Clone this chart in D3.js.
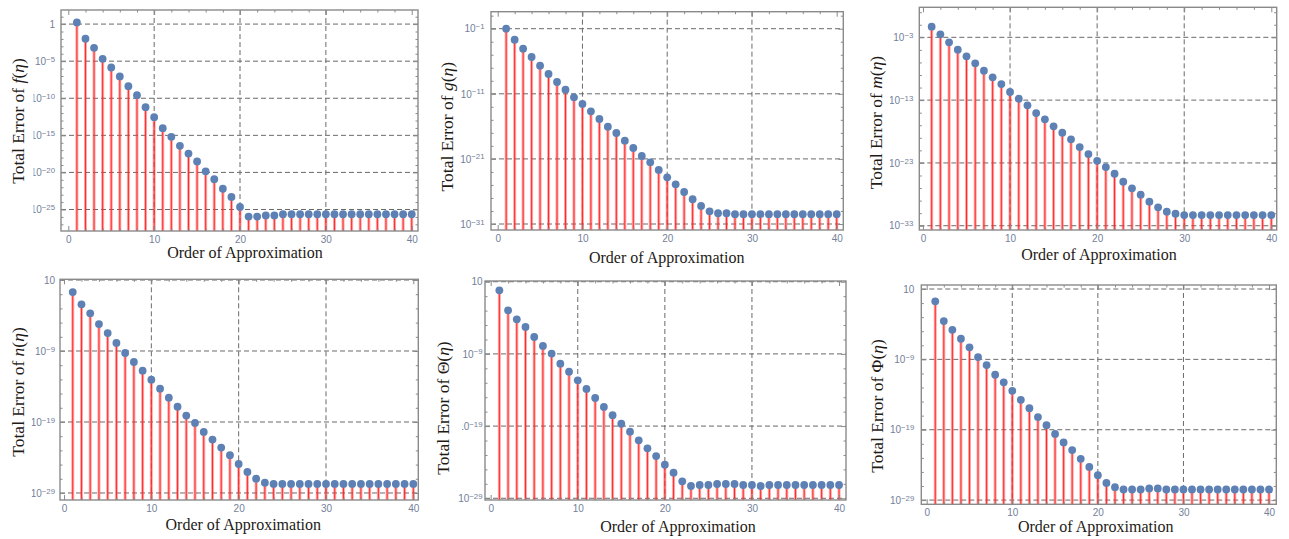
<!DOCTYPE html>
<html>
<head>
<meta charset="utf-8">
<title>Total Error vs Order of Approximation</title>
<script src="https://cdn.jsdelivr.net/npm/d3@7/dist/d3.min.js"></script>
<style>
  body { margin: 0; background: #fff; }
  svg { display: block; }
</style>
</head>
<body>
<script>
// order of approximation (x categories)
var orders = d3.range(1, 41);

// total error of each function
var errF = [1.7e0, 1.05e-2, 6.3e-4, 2.1e-5, 1.4e-6, 8.7e-8, 4.3e-9, 2.6e-10, 6.3e-12, 2.8e-13,
            9.3e-15, 6.3e-16, 3.8e-17, 3.5e-18, 3.0e-19, 1.4e-20, 1.2e-21, 6.3e-23, 5.0e-24, 2.2e-25,
            1.1e-26, 1.1e-26, 1.6e-26, 1.6e-26, 2.3e-26, 2.3e-26, 2.3e-26, 2.3e-26, 2.3e-26, 2.3e-26,
            2.3e-26, 2.3e-26, 2.3e-26, 2.3e-26, 2.3e-26, 2.3e-26, 2.3e-26, 2.3e-26, 2.3e-26, 2.3e-26];
var errG = [1.0e-1, 2.0e-3, 8.5e-5, 4.5e-6, 2.1e-7, 1.1e-8, 6.5e-10, 4.3e-11, 2.9e-12, 2.7e-13,
            2.0e-14, 1.35e-15, 8.9e-17, 9.5e-18, 6.3e-19, 4.7e-20, 2.8e-21, 3.0e-22, 2.0e-23, 1.5e-24,
            1.26e-25, 8.3e-27, 6.3e-28, 5.9e-29, 8.9e-30, 4.5e-30, 4.5e-30, 3.2e-30, 3.2e-30, 3.2e-30,
            3.2e-30, 3.2e-30, 3.2e-30, 3.2e-30, 3.2e-30, 3.2e-30, 3.2e-30, 3.2e-30, 3.2e-30, 3.2e-30];
var errM = [4.9e-2, 3.0e-3, 1.6e-4, 1.07e-5, 9.3e-7, 7.2e-8, 4.8e-9, 4.3e-10, 3.6e-11, 1.95e-12,
            1.66e-13, 1.5e-14, 8.7e-16, 8.7e-17, 6.8e-18, 6.5e-19, 5.8e-20, 3.4e-21, 2.6e-22, 2.2e-23,
            2.2e-24, 1.9e-25, 1.0e-26, 9.1e-28, 8.7e-29, 6.8e-30, 8.5e-31, 1.7e-31, 8.1e-32, 5.0e-32,
            5.0e-32, 5.0e-32, 5.0e-32, 5.0e-32, 5.0e-32, 5.0e-32, 5.0e-32, 5.0e-32, 5.0e-32, 5.0e-32];
var errN = [2.0e-1, 3.7e-3, 2.0e-4, 6.3e-6, 3.4e-7, 1.35e-8, 5.2e-10, 2.8e-11, 1.7e-12, 9.1e-14,
            5.0e-15, 2.7e-16, 1.45e-17, 7.9e-19, 7.4e-20, 4.0e-21, 3.3e-22, 2.5e-23, 2.1e-24, 1.2e-25,
            9.1e-27, 1.02e-27, 2.8e-28, 1.9e-28, 1.9e-28, 1.9e-28, 1.9e-28, 1.9e-28, 1.9e-28, 1.9e-28,
            1.9e-28, 1.9e-28, 1.9e-28, 1.9e-28, 1.9e-28, 1.9e-28, 1.9e-28, 1.9e-28, 1.9e-28, 1.9e-28];
var errTheta = [6.5e-1, 1.1e-3, 6.2e-5, 5.4e-6, 2.2e-7, 1.26e-8, 1.1e-9, 4.5e-11, 3.5e-12, 2.2e-13,
                1.4e-14, 7.8e-16, 4.5e-17, 3.2e-18, 2.1e-19, 1.7e-20, 1.07e-21, 8.3e-23, 7.1e-24, 4.5e-25,
                3.5e-26, 2.2e-27, 5.0e-28, 6.9e-28, 6.9e-28, 9.5e-28, 9.5e-28, 9.5e-28, 6.9e-28, 6.9e-28,
                5.0e-28, 6.9e-28, 6.9e-28, 6.9e-28, 6.9e-28, 6.9e-28, 6.9e-28, 6.9e-28, 6.9e-28, 6.9e-28];
var errPhi = [1.8e-1, 2.8e-4, 1.6e-5, 8.5e-7, 5.1e-8, 2.1e-9, 1.55e-10, 6.5e-12, 5.4e-13, 3.4e-14,
              1.8e-15, 1.17e-16, 6.2e-18, 4.5e-19, 2.5e-20, 1.55e-21, 1.26e-22, 7.2e-24, 5.2e-25, 3.5e-26,
              2.75e-27, 6.8e-28, 3.2e-28, 3.2e-28, 3.2e-28, 4.4e-28, 4.4e-28, 3.2e-28, 3.2e-28, 3.2e-28,
              3.2e-28, 3.2e-28, 3.2e-28, 3.2e-28, 3.2e-28, 3.2e-28, 3.2e-28, 3.2e-28, 3.2e-28, 3.2e-28];

// x tick labels
var xTicks = [0, 10, 20, 30, 40];

// y tick powers of ten for each panel
var yTicksF = [0, -5, -10, -15, -20, -25];
var yTicksG = [-1, -11, -21, -31];
var yTicksM = [-3, -13, -23, -33];
var yTicksLower = [1, -9, -19, -29];

// y axis titles: function symbol, italic or not
var names = [
  {sym: "f", italic: true},
  {sym: "g", italic: true},
  {sym: "m", italic: true},
  {sym: "n", italic: true},
  {sym: "\u0398", italic: false},
  {sym: "\u03A6", italic: false}
];

// panel layout: frame box in pixels, axis ranges (log10 for y), label spots,
// clip box for the y tick labels (cut at the edge of each original image)
var panels = [
  {data: errF, ticks: yTicksF, name: names[0], box: [61, 418, 10, 231], xd: [-0.85, 40.73], yd: [-27.9, 1.9],
   gap: 6, clip: [33.5, 0, 270], xt: [245, 258], yt: [18, 121]},
  {data: errG, ticks: yTicksG, name: names[1], box: [491, 843.3, 11.7, 230], xd: [-0.79, 40.78], yd: [-31.92, 1.61],
   gap: 6.5, clip: [430, 0, 270], xt: [666.7, 263], yt: [446.7, 126.7]},
  {data: errM, ticks: yTicksM, name: names[2], box: [919.3, 1276.7, 7.3, 230], xd: [-0.42, 40.62], yd: [-33.68, 1.78],
   gap: 6, clip: [890, 0, 270], xt: [1099, 259.5], yt: [875.7, 122.5]},
  {data: errN, ticks: yTicksLower, name: names[3], box: [60, 418.3, 279.3, 500], xd: [-0.46, 40.57], yd: [-29.99, 1.1],
   gap: 5, clip: [31.7, 270, 539], xt: [243.3, 530], yt: [18.3, 392]},
  {data: errTheta, ticks: yTicksLower, name: names[4], box: [485, 846, 281, 500], xd: [-0.65, 40.8], yd: [-29.24, 1.1],
   gap: 2.5, clip: [462, 270, 480], xt: [678, 531.5], yt: [443.3, 408]},
  {data: errPhi, ticks: yTicksLower, name: names[5], box: [921.3, 1276.3, 285, 504.3], xd: [-0.63, 40.85], yd: [-29.6, 1.57],
   gap: 7, clip: [859, 270, 539], xt: [1095.7, 531.5], yt: [877.3, 406]}
];

var frameColor = "#8a8a8a";
var gridColor = "#6a6a6a";
var tickTextColor = "#74809a";
var dotColor = "#5e81b5";

var svg = d3.select("body")
            .append("svg")
            .attr("width", 1289)
            .attr("height", 539);

var defs = svg.append("defs");

panels.forEach(function(p, k) {
  var left = p.box[0], right = p.box[1], top = p.box[2], bottom = p.box[3];

  var x = d3.scaleLinear().domain(p.xd).range([left, right]);
  var y = d3.scaleLog().domain([Math.pow(10, p.yd[0]), Math.pow(10, p.yd[1])]).range([bottom, top]);

  var majors = p.ticks.map(function(e) { return Math.pow(10, e); });
  var step = p.ticks[0] - p.ticks[1];
  var minors = [];
  for (var e = p.ticks[0] + step; e >= p.yd[0]; e -= step / 5) {
    if (e <= p.yd[1] && p.ticks.indexOf(Math.round(e)) < 0) minors.push(Math.pow(10, Math.round(e)));
  }
  var xMinors = d3.range(0, 41, 2).filter(function(d) { return d % 10 != 0; });

  var g = svg.append("g");

  // dashed grid
  g.selectAll(".gx").data([10, 20, 30]).enter().append("line")
    .attr("x1", function(d) { return x(d); }).attr("x2", function(d) { return x(d); })
    .attr("y1", top).attr("y2", bottom)
    .attr("stroke", gridColor).attr("stroke-width", 1).attr("stroke-dasharray", "5,3");
  g.selectAll(".gy").data(majors).enter().append("line")
    .attr("x1", left).attr("x2", right)
    .attr("y1", function(d) { return y(d); }).attr("y2", function(d) { return y(d); })
    .attr("stroke", gridColor).attr("stroke-width", 1).attr("stroke-dasharray", "5,3");

  // stems
  g.selectAll(".stemWide").data(p.data).enter().append("line")
    .attr("x1", function(d, i) { return x(orders[i]); }).attr("x2", function(d, i) { return x(orders[i]); })
    .attr("y1", bottom).attr("y2", function(d) { return y(d); })
    .attr("stroke", "rgba(255,60,60,0.45)").attr("stroke-width", 3);
  g.selectAll(".stem").data(p.data).enter().append("line")
    .attr("x1", function(d, i) { return x(orders[i]); }).attr("x2", function(d, i) { return x(orders[i]); })
    .attr("y1", bottom).attr("y2", function(d) { return y(d); })
    .attr("stroke", "#ff2a2a").attr("stroke-width", 1);

  // points
  g.selectAll(".dot").data(p.data).enter().append("circle")
    .attr("cx", function(d, i) { return x(orders[i]); })
    .attr("cy", function(d) { return y(d); })
    .attr("r", 3.9)
    .attr("fill", dotColor);

  // frame ticks, pointing inward on all four sides
  function frameAxis(axis, transform, vals, size) {
    var a = g.append("g").attr("transform", transform)
      .call(axis.tickValues(vals).tickSize(size).tickFormat(""));
    a.select(".domain").remove();
    a.selectAll("line").attr("stroke", frameColor);
  }
  frameAxis(d3.axisBottom(x), "translate(0," + bottom + ")", xTicks, -5);
  frameAxis(d3.axisBottom(x), "translate(0," + bottom + ")", xMinors, -2.5);
  frameAxis(d3.axisTop(x), "translate(0," + top + ")", xTicks, -5);
  frameAxis(d3.axisTop(x), "translate(0," + top + ")", xMinors, -2.5);
  frameAxis(d3.axisLeft(y), "translate(" + left + ",0)", majors, -5);
  frameAxis(d3.axisLeft(y), "translate(" + left + ",0)", minors, -2.5);
  frameAxis(d3.axisRight(y), "translate(" + right + ",0)", majors, -5);
  frameAxis(d3.axisRight(y), "translate(" + right + ",0)", minors, -2.5);

  g.append("rect")
    .attr("x", left).attr("y", top)
    .attr("width", right - left).attr("height", bottom - top)
    .attr("fill", "none").attr("stroke", frameColor).attr("stroke-width", 1.4);

  // x tick labels
  var xa = g.append("g").attr("transform", "translate(0," + bottom + ")")
    .call(d3.axisBottom(x).tickValues(xTicks).tickSize(0).tickPadding(5));
  xa.select(".domain").remove();
  xa.selectAll("text")
    .style("font-family", "'Liberation Sans', Arial, sans-serif")
    .style("font-size", "10px")
    .attr("fill", tickTextColor);

  // y tick labels with superscripts, cut off at the image edge
  var cl = defs.append("clipPath").attr("id", "clip" + k);
  cl.append("rect")
    .attr("x", p.clip[0]).attr("y", p.clip[1])
    .attr("width", right - p.clip[0] + 20).attr("height", p.clip[2] - p.clip[1]);
  if (p.clip[2] < bottom + 20) {
    // bottom label sits outside the cut
    cl.append("rect")
      .attr("x", left - 60).attr("y", p.clip[2])
      .attr("width", 80).attr("height", 40);
  }

  var ya = g.append("g")
    .attr("clip-path", "url(#clip" + k + ")")
    .append("g")
    .attr("transform", "translate(" + (left - p.gap + 5) + ",0)")
    .call(d3.axisLeft(y).tickValues(majors).tickSize(0).tickPadding(5));
  ya.select(".domain").remove();
  ya.selectAll("text")
    .style("font-family", "'Liberation Sans', Arial, sans-serif")
    .style("font-size", "10px")
    .attr("fill", tickTextColor)
    .text(null)
    .each(function(d, i) {
      var t = d3.select(this);
      var ex = p.ticks[i];
      if (ex == 0) { t.append("tspan").text("1"); return; }
      t.append("tspan").text("10");
      if (ex == 1) return;
      t.append("tspan").attr("dy", "-0.4em").style("font-size", "7.8px").text("\u2212" + (-ex));
    });

  // axis titles
  svg.append("text")
    .attr("x", p.xt[0]).attr("y", p.xt[1])
    .attr("text-anchor", "middle")
    .style("font-family", "'Liberation Serif', 'Times New Roman', serif")
    .style("font-size", "16px")
    .attr("fill", "#1e1a16")
    .text("Order of Approximation");

  var yt = svg.append("text")
    .attr("transform", "translate(" + p.yt[0] + "," + p.yt[1] + ") rotate(-90)")
    .attr("text-anchor", "middle")
    .attr("dy", "0.35em")
    .style("font-family", "'Liberation Serif', 'Times New Roman', serif")
    .style("font-size", "17.5px")
    .attr("fill", "#1e1a16");
  yt.append("tspan").text("Total Error of ");
  yt.append("tspan").style("font-style", p.name.italic ? "italic" : "normal").text(p.name.sym);
  yt.append("tspan").text("(");
  yt.append("tspan").style("font-style", "italic").text("\u03B7");
  yt.append("tspan").text(")");
});
</script>
</body>
</html>
